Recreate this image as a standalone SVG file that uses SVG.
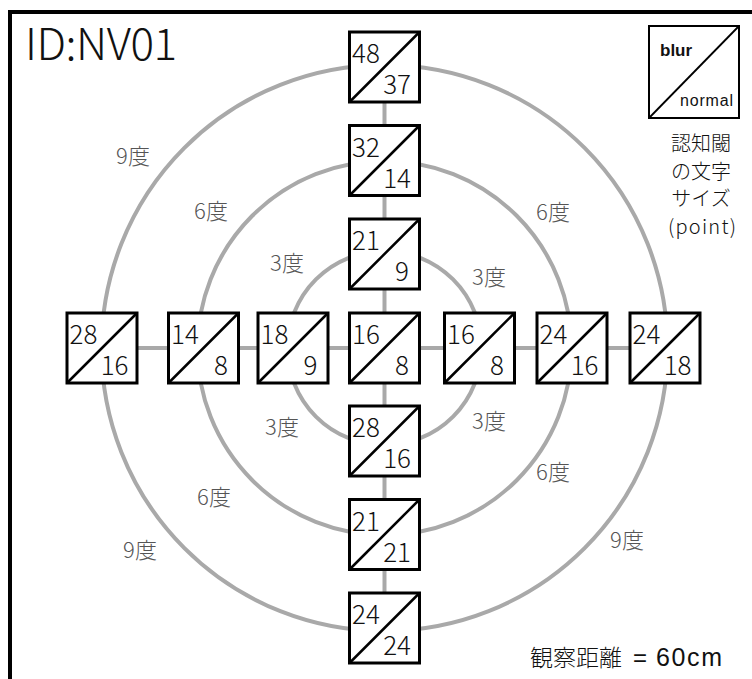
<svg xmlns="http://www.w3.org/2000/svg" width="752" height="679" viewBox="0 0 752 679">
<style>
text{font-family:"Noto Sans CJK JP","Noto Sans",sans-serif;font-weight:300;fill:#111}
.lat{font-family:"Liberation Sans",Arial,sans-serif;font-weight:normal}
.ring{fill:none;stroke:#a9a9a9;stroke-width:4}
.conn line{stroke:#a9a9a9;stroke-width:4}
.box{fill:#fff;stroke:#000;stroke-width:3}
.diag{stroke:#000;stroke-width:2.5}
.num{font-size:26px}
.end{text-anchor:end}
.deg{font-size:22px;fill:#555;text-anchor:middle}
.jp{font-size:20px;text-anchor:middle}
</style>
<rect x="10" y="12" width="800" height="800" fill="#fff" stroke="#000" stroke-width="4"/>
<text x="25" y="60" font-size="44" textLength="152">ID:NV01</text>
<g id="rings">
<circle class="ring" cx="384.5" cy="348" r="97"/>
<circle class="ring" cx="384.5" cy="348" r="187"/>
<circle class="ring" cx="384.5" cy="348" r="283"/>
</g>
<g id="connectors" class="conn">
<line x1="384.5" y1="67" x2="384.5" y2="628"/>
<line x1="102" y1="348" x2="665" y2="348"/>
</g>
<g id="degree-labels">
<text class="deg" x="133" y="164">9度</text>
<text class="deg" x="211" y="219">6度</text>
<text class="deg" x="287" y="271">3度</text>
<text class="deg" x="489" y="285">3度</text>
<text class="deg" x="553" y="220">6度</text>
<text class="deg" x="282" y="435">3度</text>
<text class="deg" x="489" y="429">3度</text>
<text class="deg" x="553" y="480">6度</text>
<text class="deg" x="214" y="505">6度</text>
<text class="deg" x="140" y="558">9度</text>
<text class="deg" x="627" y="548">9度</text>
</g>
<g id="n-top3"><rect class="box" x="349.5" y="32" width="70" height="70"/><line class="diag" x1="349.5" y1="102" x2="419.5" y2="32"/><text class="num" x="352" y="63">48</text><text class="num end" x="411" y="94">37</text></g>
<g id="n-top2"><rect class="box" x="349.5" y="125.5" width="70" height="70"/><line class="diag" x1="349.5" y1="195.5" x2="419.5" y2="125.5"/><text class="num" x="352" y="156.5">32</text><text class="num end" x="411" y="187.5">14</text></g>
<g id="n-top1"><rect class="box" x="349.5" y="219" width="70" height="70"/><line class="diag" x1="349.5" y1="289" x2="419.5" y2="219"/><text class="num" x="352" y="250">21</text><text class="num end" x="409" y="281">9</text></g>
<g id="n-center"><rect class="box" x="349.5" y="313" width="70" height="70"/><line class="diag" x1="349.5" y1="383" x2="419.5" y2="313"/><text class="num" x="352" y="344">16</text><text class="num end" x="409" y="375">8</text></g>
<g id="n-bot1"><rect class="box" x="349.5" y="406" width="70" height="70"/><line class="diag" x1="349.5" y1="476" x2="419.5" y2="406"/><text class="num" x="352" y="437">28</text><text class="num end" x="411" y="468">16</text></g>
<g id="n-bot2"><rect class="box" x="349.5" y="499.5" width="70" height="70"/><line class="diag" x1="349.5" y1="569.5" x2="419.5" y2="499.5"/><text class="num" x="352" y="530.5">21</text><text class="num end" x="411" y="561.5">21</text></g>
<g id="n-bot3"><rect class="box" x="349.5" y="593" width="70" height="70"/><line class="diag" x1="349.5" y1="663" x2="419.5" y2="593"/><text class="num" x="352" y="624">24</text><text class="num end" x="411" y="655">24</text></g>
<g id="n-left3"><rect class="box" x="67" y="313" width="70" height="70"/><line class="diag" x1="67" y1="383" x2="137" y2="313"/><text class="num" x="69.5" y="344">28</text><text class="num end" x="128.5" y="375">16</text></g>
<g id="n-left2"><rect class="box" x="168.5" y="313" width="70" height="70"/><line class="diag" x1="168.5" y1="383" x2="238.5" y2="313"/><text class="num" x="171" y="344">14</text><text class="num end" x="228" y="375">8</text></g>
<g id="n-left1"><rect class="box" x="258" y="313" width="70" height="70"/><line class="diag" x1="258" y1="383" x2="328" y2="313"/><text class="num" x="260.5" y="344">18</text><text class="num end" x="317.5" y="375">9</text></g>
<g id="n-right1"><rect class="box" x="444.5" y="313" width="70" height="70"/><line class="diag" x1="444.5" y1="383" x2="514.5" y2="313"/><text class="num" x="447" y="344">16</text><text class="num end" x="504" y="375">8</text></g>
<g id="n-right2"><rect class="box" x="537" y="313" width="70" height="70"/><line class="diag" x1="537" y1="383" x2="607" y2="313"/><text class="num" x="539.5" y="344">24</text><text class="num end" x="598.5" y="375">16</text></g>
<g id="n-right3"><rect class="box" x="630" y="313" width="70" height="70"/><line class="diag" x1="630" y1="383" x2="700" y2="313"/><text class="num" x="632.5" y="344">24</text><text class="num end" x="691.5" y="375">18</text></g>
<g id="legend">
<rect x="649" y="26" width="90" height="92" fill="#fff" stroke="#000" stroke-width="2"/>
<line x1="649" y1="118" x2="739" y2="26" stroke="#000" stroke-width="1.8"/>
<text x="660" y="56" font-size="17" style="font-family:'Liberation Sans',Arial,sans-serif;font-weight:bold">blur</text>
<text class="lat" x="680" y="106" font-size="16" textLength="53">normal</text>
<text class="jp" x="701" y="151">認知閾</text>
<text class="jp" x="701" y="179">の文字</text>
<text class="jp" x="701" y="206">サイズ</text>
<text class="jp" x="702" y="234" font-size="19" textLength="68">(point)</text>
</g>
<text x="530" y="666" font-size="23">観察距離<tspan class="lat" x="633" font-size="24">=</tspan><tspan class="lat" x="656" font-size="25" textLength="66">60cm</tspan></text>
</svg>
